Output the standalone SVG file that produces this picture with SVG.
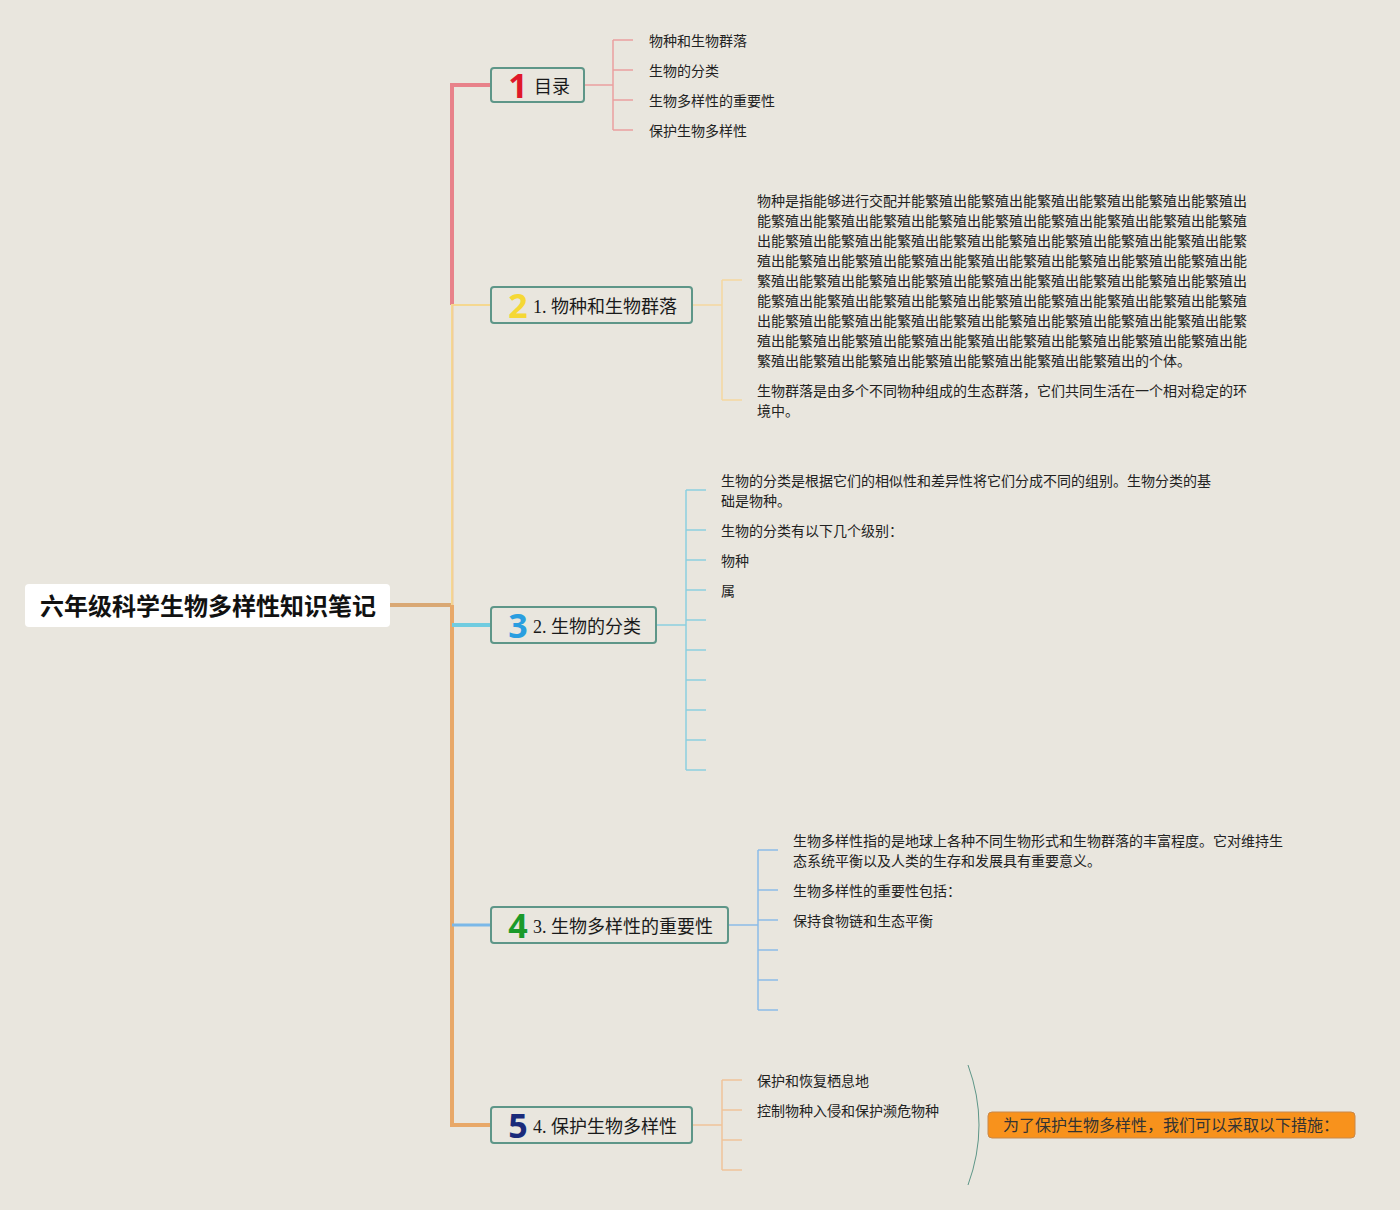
<svg xmlns="http://www.w3.org/2000/svg" width="1400" height="1210" viewBox="0 0 1400 1210">
<style>
.bg{fill:#e9e6de}
.box{fill:#e9e6de;stroke:#5e9688;stroke-width:2}
.lbl{font-family:"Liberation Serif","Noto Sans CJK SC",sans-serif;font-size:18px;fill:#1a1a1a}
.num{font-family:"Noto Sans","Liberation Sans",sans-serif;font-size:34px;font-weight:bold}
.t{font-family:"Noto Sans CJK SC",sans-serif;font-size:14px;fill:#222}
.root{font-family:"Noto Sans CJK SC",sans-serif;font-size:24px;font-weight:bold;fill:#111}
.c{fill:none}
</style>
<rect class="bg" x="0" y="0" width="1400" height="1210"/>
<g id="connectors">
<path class="c" d="M390 605 H452" stroke="#d9a874" stroke-width="4"/>
<path class="c" d="M452 305 V85 H491" stroke="#e8828a" stroke-width="4"/>
<path class="c" d="M452 605 V305 H491" stroke="#f5d890" stroke-width="2"/>
<path class="c" d="M453 605 V305" stroke="#f0c898" stroke-width="1"/>
<path class="c" d="M452 605 V1125 H491" stroke="#e8a868" stroke-width="4"/>
<path class="c" d="M452 625 H491" stroke="#70cce0" stroke-width="4"/>
<path class="c" d="M452 925 H491" stroke="#7ab8e8" stroke-width="3"/>
<path class="c" d="M584 85 H613 M613 40 V130 M613 40 H633 M613 70 H633 M613 100 H633 M613 130 H633" stroke="#eaa0a0" stroke-width="1.5"/>
<path class="c" d="M692 305 H722 M722 280 V400 M722 280 H742 M722 400 H742" stroke="#f5d8a0" stroke-width="1.5"/>
<path class="c" d="M656 625 H686 M686 490 V770 M686 490 H706 M686 530 H706 M686 560 H706 M686 590 H706 M686 620 H706 M686 650 H706 M686 680 H706 M686 710 H706 M686 740 H706 M686 770 H706" stroke="#8ccfe0" stroke-width="1.5"/>
<path class="c" d="M728 925 H758 M758 850 V1010 M758 850 H778 M758 890 H778 M758 920 H778 M758 950 H778 M758 980 H778 M758 1010 H778" stroke="#8cbce8" stroke-width="1.5"/>
<path class="c" d="M692 1125 H722 M722 1080 V1170 M722 1080 H742 M722 1110 H742 M722 1140 H742 M722 1170 H742" stroke="#f0c49a" stroke-width="1.5"/>
<path class="c" d="M968 1065 Q990 1125 968 1185" stroke="#5e9688" stroke-width="1"/>
</g>
<g id="root">
<rect x="25" y="584" width="365" height="43" rx="4" fill="#ffffff"/>
<text class="root" x="208" y="615" text-anchor="middle">六年级科学生物多样性知识笔记</text>
</g>
<g id="node1">
<rect class="box" x="491" y="68" width="93" height="34" rx="3"/>
<text class="num" x="518" y="98" text-anchor="middle" fill="#e0182a">1</text>
<text class="lbl" x="534" y="93">目录</text>
</g>
<g id="node1-children">
<text class="t" x="649" y="46">物种和生物群落</text>
<text class="t" x="649" y="76">生物的分类</text>
<text class="t" x="649" y="106">生物多样性的重要性</text>
<text class="t" x="649" y="136">保护生物多样性</text>
</g>
<g id="node2">
<rect class="box" x="491" y="287" width="201" height="36" rx="3"/>
<text class="num" x="518" y="318" text-anchor="middle" fill="#f5d835">2</text>
<text class="lbl" x="533" y="313">1. 物种和生物群落</text>
</g>
<g id="node2-children">
<text class="t" x="757" y="206">物种是指能够进行交配并能繁殖出能繁殖出能繁殖出能繁殖出能繁殖出能繁殖出</text>
<text class="t" x="757" y="226">能繁殖出能繁殖出能繁殖出能繁殖出能繁殖出能繁殖出能繁殖出能繁殖出能繁殖</text>
<text class="t" x="757" y="246">出能繁殖出能繁殖出能繁殖出能繁殖出能繁殖出能繁殖出能繁殖出能繁殖出能繁</text>
<text class="t" x="757" y="266">殖出能繁殖出能繁殖出能繁殖出能繁殖出能繁殖出能繁殖出能繁殖出能繁殖出能</text>
<text class="t" x="757" y="286">繁殖出能繁殖出能繁殖出能繁殖出能繁殖出能繁殖出能繁殖出能繁殖出能繁殖出</text>
<text class="t" x="757" y="306">能繁殖出能繁殖出能繁殖出能繁殖出能繁殖出能繁殖出能繁殖出能繁殖出能繁殖</text>
<text class="t" x="757" y="326">出能繁殖出能繁殖出能繁殖出能繁殖出能繁殖出能繁殖出能繁殖出能繁殖出能繁</text>
<text class="t" x="757" y="346">殖出能繁殖出能繁殖出能繁殖出能繁殖出能繁殖出能繁殖出能繁殖出能繁殖出能</text>
<text class="t" x="757" y="366">繁殖出能繁殖出能繁殖出能繁殖出能繁殖出能繁殖出能繁殖出的个体。</text>
<text class="t" x="757" y="396">生物群落是由多个不同物种组成的生态群落，它们共同生活在一个相对稳定的环</text>
<text class="t" x="757" y="416">境中。</text>
</g>
<g id="node3">
<rect class="box" x="491" y="607" width="165" height="36" rx="3"/>
<text class="num" x="518" y="638" text-anchor="middle" fill="#2a9ee0">3</text>
<text class="lbl" x="533" y="633">2. 生物的分类</text>
</g>
<g id="node3-children">
<text class="t" x="721" y="486">生物的分类是根据它们的相似性和差异性将它们分成不同的组别。生物分类的基</text>
<text class="t" x="721" y="506">础是物种。</text>
<text class="t" x="721" y="536">生物的分类有以下几个级别：</text>
<text class="t" x="721" y="566">物种</text>
<text class="t" x="721" y="596">属</text>
</g>
<g id="node4">
<rect class="box" x="491" y="907" width="237" height="36" rx="3"/>
<text class="num" x="518" y="938" text-anchor="middle" fill="#1a9a2a">4</text>
<text class="lbl" x="533" y="933">3. 生物多样性的重要性</text>
</g>
<g id="node4-children">
<text class="t" x="793" y="846">生物多样性指的是地球上各种不同生物形式和生物群落的丰富程度。它对维持生</text>
<text class="t" x="793" y="866">态系统平衡以及人类的生存和发展具有重要意义。</text>
<text class="t" x="793" y="896">生物多样性的重要性包括：</text>
<text class="t" x="793" y="926">保持食物链和生态平衡</text>
</g>
<g id="node5">
<rect class="box" x="491" y="1107" width="201" height="36" rx="3"/>
<text class="num" x="518" y="1138" text-anchor="middle" fill="#1a2a7a">5</text>
<text class="lbl" x="533" y="1133">4. 保护生物多样性</text>
</g>
<g id="node5-children">
<text class="t" x="757" y="1086">保护和恢复栖息地</text>
<text class="t" x="757" y="1116">控制物种入侵和保护濒危物种</text>
</g>
<g id="summary">
<rect x="988" y="1112" width="367" height="26" rx="4" fill="#f8921c" stroke="#c8884a" stroke-width="1"/>
<text x="1003" y="1131" font-family="Noto Sans CJK SC, sans-serif" font-size="16" fill="#333">为了保护生物多样性，我们可以采取以下措施：</text>
</g>
</svg>
